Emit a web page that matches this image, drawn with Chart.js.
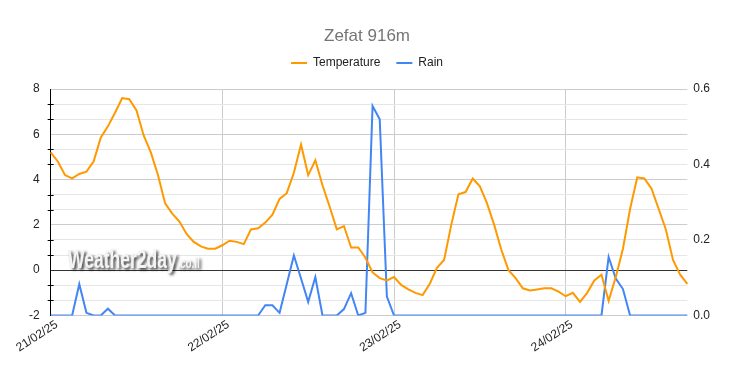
<!DOCTYPE html>
<html>
<head>
<meta charset="utf-8">
<script src="https://cdn.jsdelivr.net/npm/chart.js@4"></script>
<style>
  body { margin: 0; background: #fff; }
  #wrap { width: 733px; height: 371px; }
</style>
</head>
<body>
<div id="wrap"><canvas id="zefatChart" width="733" height="371"></canvas></div>
<script>
const dayLabels = ["21/02/25", "22/02/25", "23/02/25", "24/02/25"];

// hourly readings, starting 21/02/25 00:00
const temperature = [
  5.2, 4.8, 4.2, 4.05, 4.25, 4.35, 4.8, 5.85, 6.35, 6.95, 7.6, 7.55,
  7.05, 5.95, 5.2, 4.2, 2.95, 2.5, 2.15, 1.6, 1.25, 1.05, 0.95, 0.95,
  1.1, 1.3, 1.25, 1.15, 1.8, 1.85, 2.1, 2.45, 3.15, 3.4, 4.3, 5.55,
  4.2, 4.85, 3.75, 2.8, 1.8, 1.95, 1.0, 1.0, 0.55, -0.1, -0.35, -0.45,
  -0.3, -0.65, -0.85, -1.0, -1.1, -0.6, 0.1, 0.45, 2.0, 3.35, 3.45, 4.05,
  3.7, 2.95, 2.0, 0.9, 0.0, -0.35, -0.8, -0.9, -0.85, -0.8, -0.8, -0.95,
  -1.15, -1.0, -1.4, -1.0, -0.45, -0.2, -1.35, -0.3, 0.95, 2.7, 4.1, 4.05,
  3.6, 2.7, 1.8, 0.45, -0.2, -0.6,
];

const rain = [
  0, 0, 0, 0, 0.083, 0.007, 0, 0, 0.018, 0, 0, 0,
  0, 0, 0, 0, 0, 0, 0, 0, 0, 0, 0, 0,
  0, 0, 0, 0, 0, 0, 0.027, 0.027, 0.007, 0.083, 0.159, 0.098,
  0.036, 0.102, 0, 0, 0, 0.017, 0.059, 0, 0.007, 0.555, 0.52, 0.05,
  0, 0, 0, 0, 0, 0, 0, 0, 0, 0, 0, 0,
  0, 0, 0, 0, 0, 0, 0, 0, 0, 0, 0, 0,
  0, 0, 0, 0, 0, 0, 0.155, 0.098, 0.07, 0, 0, 0,
  0, 0, 0, 0, 0, 0,
];

const tempTicks = [-2, 0, 2, 4, 6, 8];
const rainTicks = [0, 0.2, 0.4, 0.6];

const labels = temperature.map((_, i) => {
  const hh = String(i % 24).padStart(2, "0");
  return `${dayLabels[Math.floor(i / 24)]} ${hh}:00`;
});

Chart.defaults.font.family = "'Liberation Sans', Arial, sans-serif";
Chart.defaults.font.size = 12;
Chart.defaults.color = "#222";

// 3 minor steps between each labelled temperature tick
const minorSteps = 3;

const axisTicks = {
  id: "axisTicks",
  afterDraw(chart) {
    const { ctx } = chart;
    const y = chart.scales.y;
    const x0 = chart.chartArea.left;
    ctx.save();
    ctx.strokeStyle = "#000";
    ctx.lineWidth = 1;
    y.ticks.forEach((t, k) => {
      if (k % minorSteps === 0) return;
      const py = Math.round(y.getPixelForTick(k)) + 0.5;
      ctx.beginPath();
      ctx.moveTo(x0 - 3, py);
      ctx.lineTo(x0 + 3, py);
      ctx.stroke();
    });
    ctx.restore();
  },
};

// some empty room between the legend and the plot
const legendGap = {
  id: "legendGap",
  beforeLayout(chart) {
    const lg = chart.legend;
    if (!lg || lg._gapPatched) return;
    const fit = lg.fit;
    lg.fit = function () {
      fit.call(this);
      this.height += 10;
    };
    lg._gapPatched = true;
  },
};

const watermark = {
  id: "watermark",
  beforeDatasetsDraw(chart) {
    const { ctx } = chart;
    ctx.save();
    ctx.shadowColor = "rgba(0,0,0,0.8)";
    ctx.shadowBlur = 3;
    ctx.shadowOffsetX = 2;
    ctx.shadowOffsetY = 2;
    ctx.fillStyle = "#f4f4f4";
    ctx.textBaseline = "alphabetic";
    ctx.translate(68, 268);
    ctx.scale(0.7, 1);
    ctx.font = "bold 25px 'Liberation Sans', Arial, sans-serif";
    ctx.fillText("Weather2day", 0, 0);
    const w = ctx.measureText("Weather2day").width;
    ctx.font = "bold 14px 'Liberation Sans', Arial, sans-serif";
    ctx.fillText(".co.il", w + 1, 0);
    ctx.restore();
  },
};

const dataChar = {
  labels: labels,
  datasets: [
    {
      label: "Temperature",
      data: temperature,
      yAxisID: "y",
      borderColor: "#ff9900",
      backgroundColor: "#ff9900",
      borderWidth: 2,
      pointRadius: 0,
      tension: 0,
    },
    {
      label: "Rain",
      data: rain,
      yAxisID: "y1",
      borderColor: "#4285f4",
      backgroundColor: "#4285f4",
      borderWidth: 2,
      pointRadius: 0,
      tension: 0,
    },
  ],
};

const config = {
  type: "line",
  data: dataChar,
  options: {
    responsive: false,
    animation: false,
    devicePixelRatio: 1,
    layout: { padding: { left: 18, right: 17, top: 0, bottom: 14 } },
    plugins: {
      title: {
        display: true,
        text: "Zefat 916m",
        color: "#757575",
        font: { size: 17, weight: "normal", lineHeight: "5px" },
        padding: { top: 34, bottom: 2 },
      },
      legend: {
        position: "top",
        labels: {
          usePointStyle: true,
          pointStyle: "line",
          pointStyleWidth: 16,
          padding: 16,
          color: "#222",
          font: { size: 12 },
        },
      },
      tooltip: { enabled: false },
    },
    scales: {
      x: {
        type: "category",
        offset: false,
        border: { display: false },
        grid: {
          drawTicks: false,
          color: (c) => (c.index % 24 === 0 ? "#cccccc" : "transparent"),
        },
        afterFit: (scale) => {
          scale.paddingLeft = 0;
          scale.paddingRight = 0;
        },
        ticks: {
          autoSkip: false,
          minRotation: 33,
          maxRotation: 33,
          padding: 2,
          labelOffset: 6,
          color: "#222",
          callback: (val, idx) => (idx % 24 === 0 ? dayLabels[idx / 24] : ""),
        },
      },
      y: {
        position: "left",
        min: tempTicks[0],
        max: tempTicks[tempTicks.length - 1],
        border: { display: true, color: "#000", width: 1 },
        grid: {
          drawTicks: false,
          color: (c) => {
            if (c.index === minorSteps) return "#333333";
            return c.index % minorSteps === 0 ? "#cccccc" : "#e6e6e6";
          },
        },
        afterBuildTicks: (scale) => {
          const step = (tempTicks[1] - tempTicks[0]) / minorSteps;
          const n = (tempTicks.length - 1) * minorSteps;
          scale.ticks = Array.from({ length: n + 1 }, (_, k) => ({
            value: tempTicks[0] + k * step,
          }));
        },
        ticks: {
          autoSkip: false,
          padding: 11,
          color: "#222",
          callback: (val, idx) =>
            idx % minorSteps === 0 ? String(tempTicks[idx / minorSteps]) : "",
        },
      },
      y1: {
        position: "right",
        min: rainTicks[0],
        max: rainTicks[rainTicks.length - 1],
        border: { display: false },
        grid: { drawOnChartArea: false, drawTicks: false },
        afterBuildTicks: (scale) => {
          scale.ticks = rainTicks.map((v) => ({ value: v }));
        },
        ticks: {
          padding: 6,
          color: "#222",
          callback: (val) => Number(val).toFixed(1),
        },
      },
    },
  },
  plugins: [watermark, axisTicks, legendGap],
};

new Chart(document.getElementById("zefatChart"), config);
</script>
</body>
</html>
